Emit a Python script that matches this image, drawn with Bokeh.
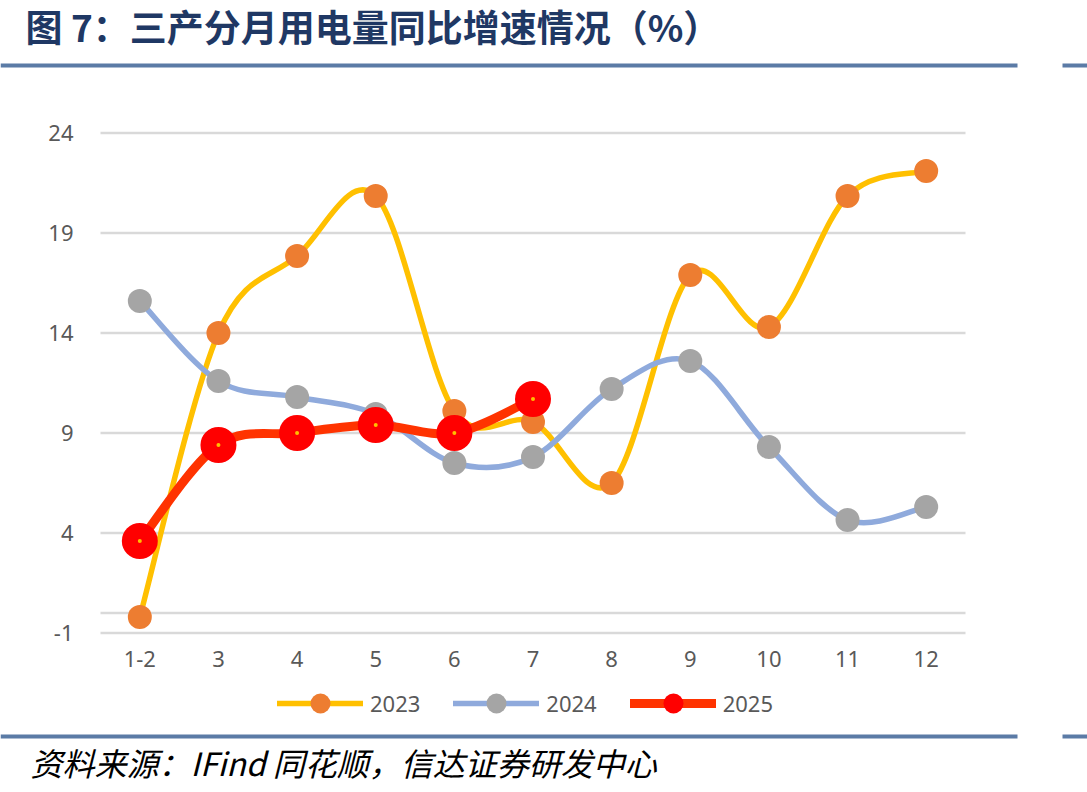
from bokeh.plotting import figure
from bokeh.models import (Range1d, Label, BoxAnnotation, Legend, LegendItem,
                          ColumnDataSource)
from bokeh.embed import file_html
from bokeh.resources import INLINE
from bokeh.core.properties import value

# ---- data ----
categories = ["1-2", "3", "4", "5", "6", "7", "8", "9", "10", "11", "12"]
v2023 = [-0.2, 14.0, 17.85, 20.85, 10.1, 9.55, 6.5, 16.9, 14.3, 20.85, 22.1]
v2024 = [15.6, 11.6, 10.8, 9.95, 7.5, 7.8, 11.2, 12.6, 8.3, 4.65, 5.3]
v2025 = [3.6, 8.4, 9.0, 9.4, 9.0, 10.7]
y_ticks = [-1, 4, 9, 14, 19, 24]

TITLE = "图 7：三产分月用电量同比增速情况（%）"
SOURCE = "资料来源：IFind 同花顺，信达证券研发中心"

FONT = "Noto Sans"
CJK = "Noto Sans CJK SC"
LABEL_COLOR = "#595959"
GRID_COLOR = "#D9D9D9"

W, H = 1087, 792
# plot area in canvas px: categories span 100..965, value 24 at 132.5, 20 px per unit
PA_L, PA_R = 100.0, 965.0
n = len(categories)
px_per_x = (PA_R - PA_L) / n
px_per_y = 20.0
Y_TOP_VAL, Y_TOP_PX = max(y_ticks), 132.5

x_start = -0.5 - PA_L / px_per_x
x_end = x_start + W / px_per_x
y_end = Y_TOP_VAL + Y_TOP_PX / px_per_y
y_start = y_end - H / px_per_y


def smooth_segments(ys):
    """Bezier control points for a smoothed (Catmull-Rom style) line through the points."""
    xs = list(range(len(ys)))
    m = len(ys)
    seg = dict(x0=[], y0=[], x1=[], y1=[], cx0=[], cy0=[], cx1=[], cy1=[])
    for i in range(m - 1):
        p0 = (xs[max(i - 1, 0)], ys[max(i - 1, 0)])
        p1 = (xs[i], ys[i])
        p2 = (xs[i + 1], ys[i + 1])
        p3 = (xs[min(i + 2, m - 1)], ys[min(i + 2, m - 1)])
        seg["x0"].append(p1[0]); seg["y0"].append(p1[1])
        seg["x1"].append(p2[0]); seg["y1"].append(p2[1])
        seg["cx0"].append(p1[0] + (p2[0] - p0[0]) / 6.0)
        seg["cy0"].append(p1[1] + (p2[1] - p0[1]) / 6.0)
        seg["cx1"].append(p2[0] - (p3[0] - p1[0]) / 6.0)
        seg["cy1"].append(p2[1] - (p3[1] - p1[1]) / 6.0)
    return seg


p = figure(width=W, height=H, output_backend="svg", toolbar_location=None,
           x_range=Range1d(x_start, x_end), y_range=Range1d(y_start, y_end),
           min_border=0)
p.xaxis.visible = False
p.yaxis.visible = False
p.xgrid.grid_line_color = None
p.ygrid.grid_line_color = None
p.outline_line_color = None
p.background_fill_color = "white"
p.border_fill_color = "white"

# value gridlines (plus the category axis line at 0)
grid_vals = y_ticks + [0]
p.segment(x0=[-0.5] * len(grid_vals), x1=[n - 0.5] * len(grid_vals),
          y0=grid_vals, y1=grid_vals, line_color=GRID_COLOR, line_width=2.5)

# value tick labels
p.text(x=[-0.5] * len(y_ticks), y=y_ticks, text=[str(t) for t in y_ticks],
       x_offset=-27, text_align="right", text_baseline="middle",
       text_font=value(FONT), text_font_size="22px", text_color=LABEL_COLOR)
# category labels
p.text(x=list(range(n)), y=[min(y_ticks)] * n, text=categories,
       y_offset=26, text_align="center", text_baseline="middle",
       text_font=value(FONT), text_font_size="22px", text_color=LABEL_COLOR)

# series
s23 = smooth_segments(v2023)
s24 = smooth_segments(v2024)
s25 = smooth_segments(v2025)

bz = dict(x0="x0", y0="y0", x1="x1", y1="y1", cx0="cx0", cy0="cy0", cx1="cx1", cy1="cy1")
l23 = p.bezier(source=ColumnDataSource(s23), line_color="#FFC000", line_width=5.5,
               line_cap="round", **bz)
l24 = p.bezier(source=ColumnDataSource(s24), line_color="#8FAADC", line_width=5.5,
               line_cap="round", **bz)
l25 = p.bezier(source=ColumnDataSource(s25), line_color="#FF3300", line_width=9,
               line_cap="round", **bz)

m23 = p.scatter(list(range(len(v2023))), v2023, size=24, fill_color="#ED7D31", line_color=None)
m24 = p.scatter(list(range(len(v2024))), v2024, size=24, fill_color="#A5A5A5", line_color=None)
m25 = p.scatter(list(range(len(v2025))), v2025, size=36, fill_color="#FF0000", line_color=None)
p.scatter(list(range(len(v2025))), v2025, size=4, fill_color="#FFC000", line_color=None)

legend = Legend(items=[
    LegendItem(label="2023", renderers=[l23, m23]),
    LegendItem(label="2024", renderers=[l24, m24]),
    LegendItem(label="2025", renderers=[l25, m25]),
], orientation="horizontal", location=(277, H - 728),
    glyph_width=86, glyph_height=50, spacing=33, label_standoff=7,
    label_text_font=FONT, label_text_font_size="22px", label_text_color=LABEL_COLOR,
    border_line_color=None, background_fill_alpha=0, padding=0, margin=0)
p.add_layout(legend)

# title, source, rules (screen units, origin at the canvas' bottom-left)
p.add_layout(Label(x=25, y=H - 25, x_units="screen", y_units="screen", text=TITLE,
                   text_font=CJK, text_font_size="37px", text_font_style="bold",
                   text_color="#1F3864", text_baseline="middle"))
p.add_layout(Label(x=30, y=H - 761, x_units="screen", y_units="screen", text=SOURCE,
                   text_font=CJK, text_font_size="32px", text_font_style="italic",
                   text_color="#000000", text_baseline="middle"))

RULE = "#5B7BA6"
for top in (63, 734):
    for left, right in ((0, 1017), (1062, W)):
        p.add_layout(BoxAnnotation(left=left, right=right, top=H - top, bottom=H - top - 4,
                                   left_units="screen", right_units="screen",
                                   top_units="screen", bottom_units="screen",
                                   fill_color=RULE, fill_alpha=1, line_color=None))

open("out.html", "w").write(file_html(p, INLINE))
